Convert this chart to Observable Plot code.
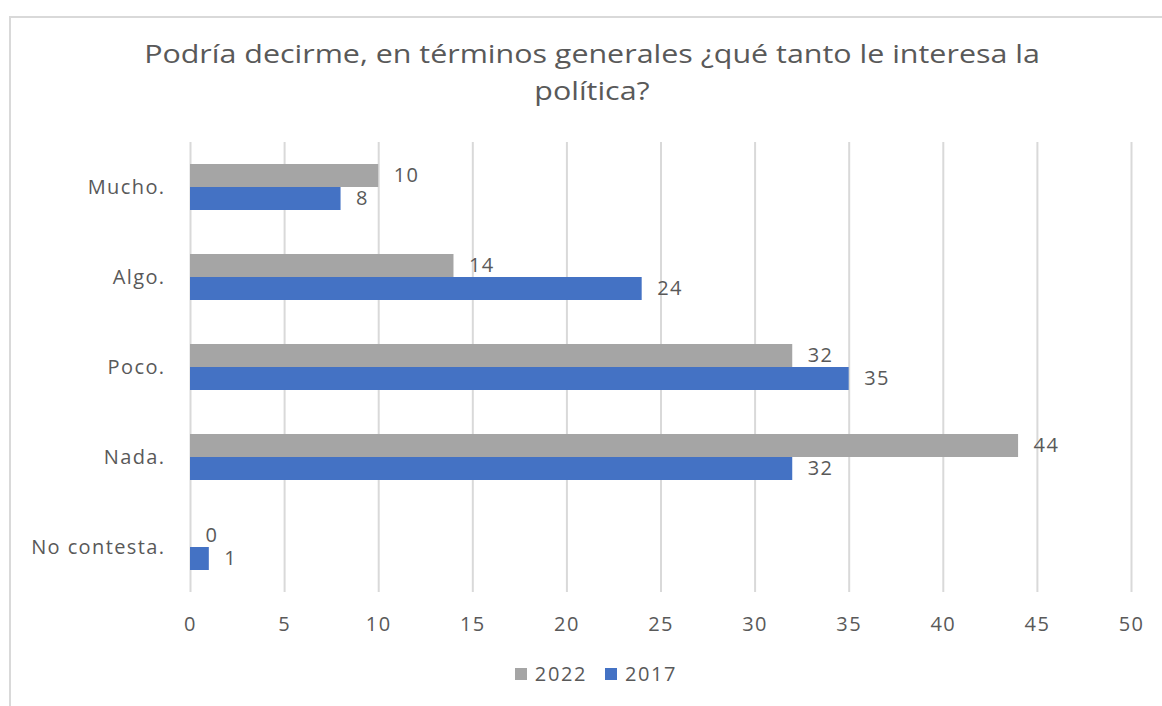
<!DOCTYPE html>
<html>
<head>
<meta charset="utf-8">
<script src="https://cdn.jsdelivr.net/npm/d3@7"></script>
<script src="https://cdn.jsdelivr.net/npm/@observablehq/plot@0.6"></script>
<style>
  html, body { margin: 0; padding: 0; background: #fff; }
  body { width: 1162px; height: 706px; position: relative; overflow: hidden; font-family: "Open Sans", sans-serif; color: #595959; }
  #frame { position: absolute; left: 9px; top: 16px; width: 1200px; height: 800px; border: 2px solid #d9d9d9; box-sizing: border-box; }
  #title { position: absolute; left: 92px; top: 35px; width: 1000px; text-align: center; font-size: 26px; line-height: 37px; color: #595959; transform: scaleX(1.17); transform-origin: 500px 0; }
  #chart { position: absolute; left: 0; top: 120px; }
  #chart svg text { letter-spacing: 1.4px; }
  #legend { position: absolute; left: 0; top: 660px; width: 1192px; display: flex; justify-content: center; align-items: center; font-size: 20px; letter-spacing: 1.6px; color: #595959; }
  .sw { display: inline-block; width: 12px; height: 12px; margin-right: 8px; }
  .item { display: flex; align-items: center; margin: 0 9px; }
</style>
</head>
<body>
<div id="frame"></div>
<div id="title">Podría decirme, en términos generales ¿qué tanto le interesa la<br>política?</div>
<div id="chart"></div>
<div id="legend"></div>
<script>
const categories = ["Mucho.", "Algo.", "Poco.", "Nada.", "No contesta."];
const series = ["2022", "2017"];
const values2022 = [10, 14, 32, 44, 0];
const values2017 = [8, 24, 35, 32, 1];
const xTicks = [0, 5, 10, 15, 20, 25, 30, 35, 40, 45, 50];
const seriesColors = ["#a5a5a5", "#4472c4"];

const rows = categories.flatMap((c, i) => [
  {category: c, series: "2022", value: values2022[i]},
  {category: c, series: "2017", value: values2017[i]}
]);

const chart = Plot.plot({
  width: 1162,
  height: 540,
  marginTop: 20,
  marginBottom: 66,
  marginLeft: 190,
  marginRight: 31,
  style: {fontFamily: "Open Sans, sans-serif", fontSize: "20px", color: "#595959", background: "transparent"},
  x: {domain: [0, 50], ticks: xTicks, tickSize: 0, tickPadding: 24, label: null},
  y: {domain: series, axis: null, paddingInner: 0, paddingOuter: 0.92},
  fy: {domain: categories, padding: 0, tickSize: 0, tickPadding: 25, label: null},
  color: {domain: series, range: seriesColors},
  facet: {data: rows, y: "category"},
  marks: [
    Plot.ruleX(xTicks, {stroke: "#d9d9d9", strokeWidth: 2, strokeOpacity: 1}),
    Plot.barX(rows, {x: "value", y: "series", fill: "series"}),
    Plot.text(rows, {x: "value", y: "series", text: d => String(d.value), textAnchor: "start", dx: 15, fill: "#595959", fontSize: 20})
  ]
});
document.getElementById("chart").appendChild(chart);

const legend = document.getElementById("legend");
series.forEach((s, i) => {
  const item = document.createElement("div");
  item.className = "item";
  const sw = document.createElement("span");
  sw.className = "sw";
  sw.style.background = seriesColors[i];
  item.appendChild(sw);
  item.appendChild(document.createTextNode(s));
  legend.appendChild(item);
});
</script>
</body>
</html>
